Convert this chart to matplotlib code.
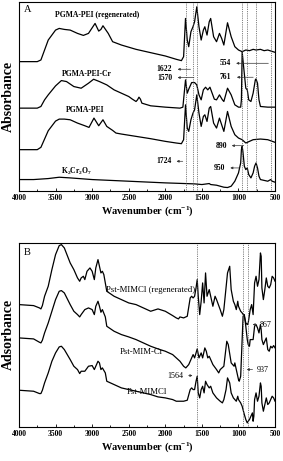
import numpy as np
import matplotlib
matplotlib.use("Agg")
import matplotlib.pyplot as plt
from matplotlib.ticker import MultipleLocator

plt.rcParams['font.family'] = ['Liberation Serif', 'DejaVu Serif']
plt.rcParams['mathtext.fontset'] = 'custom'
plt.rcParams['mathtext.rm'] = 'Liberation Serif'
plt.rcParams['mathtext.it'] = 'Liberation Serif:italic'
plt.rcParams['mathtext.bf'] = 'Liberation Serif:bold'

# ---------------- Panel A data (wavenumber, offset absorbance a.u.) ----------------
wn_a1 = [4000,3750,3700,3650,3600,3500,3450,3380,3300,3200,3120,3050,2960,2910,2880,2852,2780,2720,2600,2400,2200,2000,1850,1780,1750,1724,1700,1680,1650,1622,1600,1570,1540,1510,1480,1460,1430,1400,1380,1340,1300,1260,1230,1200,1150,1100,1050,1000,950,900,850,800,760,700,650,600,500]
ab_a1 = [389,389,394,424,454,484,489,486,484,474,468,474,504,481,486,497,474,449,439,426,416,406,396,392,404,519,454,434,479,494,509,554,494,454,484,494,469,509,519,464,449,474,459,439,506,464,434,424,419,424,422,426,424,426,422,424,417]

wn_a2 = [4000,3750,3700,3650,3600,3500,3420,3350,3250,3150,3050,2980,2900,2800,2700,2600,2500,2450,2400,2380,2360,2340,2320,2200,2000,1800,1760,1724,1700,1680,1640,1600,1570,1540,1510,1480,1450,1420,1390,1360,1330,1300,1260,1220,1200,1150,1100,1050,1000,970,960,950,930,900,880,860,830,800,770,761,740,720,700,600,500]
ab_a2 = [249,249,254,274,289,316,332,329,314,309,324,336,329,319,304,294,284,276,269,274,282,276,264,256,252,249,252,334,294,306,326,326,319,289,274,304,312,304,312,294,276,274,289,274,269,309,289,259,252,252,274,419,374,309,304,274,269,294,334,337,324,274,254,252,252]

wn_a3 = [4000,3750,3700,3650,3600,3500,3450,3380,3300,3200,3100,3043,2975,2910,2852,2800,2720,2674,2600,2400,2200,2000,1850,1780,1750,1724,1700,1680,1650,1622,1600,1570,1540,1510,1480,1460,1430,1400,1380,1340,1300,1260,1230,1200,1150,1100,1050,1000,950,900,850,800,700,600,500]
ab_a3 = [124,124,131,156,181,210,216,216,214,204,196,191,219,196,214,194,182,174,171,164,157,149,144,142,154,259,189,179,214,234,244,289,234,194,224,229,209,249,254,204,189,219,199,179,239,194,169,159,154,144,149,154,156,154,146]

wn_a4 = [4000,3800,3600,3450,3300,3000,2500,2000,1600,1500,1400,1380,1300,1200,1150,1100,1050,1000,970,960,950,940,920,900,880,860,830,800,780,760,740,720,700,600,560,540,500]
ab_a4 = [34,34,37,41,39,34,29,24,21,19,22,19,17,11,10,14,29,54,84,124,134,119,74,64,69,49,39,54,74,84,69,44,34,29,34,29,26]

lines_a = [1724, 1622, 1570, 950, 890, 761, 554]

# ---------------- Panel B data ----------------
wn_b1 = [4000,3800,3720,3700,3680,3650,3600,3550,3500,3450,3420,3380,3300,3250,3200,3170,3150,3120,3100,3070,3030,3000,2970,2950,2920,2900,2880,2860,2840,2820,2800,2700,2600,2500,2400,2300,2200,2100,2000,1900,1850,1820,1800,1750,1700,1660,1640,1620,1600,1580,1564,1550,1530,1510,1490,1470,1450,1430,1400,1380,1350,1320,1300,1250,1220,1200,1150,1120,1100,1070,1050,1030,1010,1000,970,950,920,900,880,867,840,820,800,780,760,740,720,700,690,680,660,640,620,600,580,560,540,520,500]
ab_b1 = [367,364,357,354,364,392,422,472,517,544,547,537,492,472,447,437,447,452,442,467,477,467,442,477,502,482,462,467,457,432,407,392,382,372,367,357,347,354,347,334,327,324,330,327,332,387,392,387,392,417,442,392,337,377,432,372,462,392,412,392,362,392,382,352,332,352,462,482,412,377,367,352,377,362,347,342,332,312,307,312,352,367,337,432,452,422,442,522,512,417,382,412,447,422,417,427,452,447,437]

wn_b2 = [4000,3800,3720,3700,3680,3650,3600,3550,3500,3450,3420,3380,3300,3250,3200,3170,3150,3100,3050,3000,2970,2950,2920,2900,2880,2860,2820,2800,2700,2600,2500,2400,2300,2200,2100,2000,1900,1800,1750,1720,1700,1680,1650,1620,1600,1564,1540,1510,1490,1460,1440,1420,1400,1350,1300,1270,1250,1200,1160,1140,1100,1060,1050,1030,1000,990,970,950,937,920,900,880,867,850,840,800,780,760,740,720,700,690,680,660,640,620,600,580,560,540,520,500]
ab_b2 = [267,264,254,252,260,282,312,347,382,407,409,402,367,347,337,330,337,352,357,352,337,362,377,362,344,352,330,302,287,277,270,262,252,242,234,227,217,197,182,177,182,187,202,217,207,234,207,222,207,237,227,207,212,187,172,162,172,182,257,247,192,182,192,172,142,137,152,262,332,337,302,262,247,242,262,262,302,307,297,282,307,292,262,247,257,267,232,227,242,237,244,237]

wn_b3 = [4000,3800,3720,3700,3680,3650,3600,3550,3500,3450,3420,3380,3300,3250,3200,3170,3150,3100,3050,3000,2970,2950,2920,2900,2880,2860,2820,2800,2700,2600,2500,2400,2300,2200,2100,2000,1900,1850,1800,1750,1700,1660,1640,1620,1600,1580,1564,1550,1530,1510,1490,1470,1450,1430,1400,1380,1350,1300,1250,1220,1200,1170,1150,1120,1100,1070,1050,1030,1010,1000,970,950,920,900,880,867,850,830,810,800,790,780,760,740,720,700,690,680,660,640,620,600,580,560,540,520,500]
ab_b3 = [110,107,100,100,110,132,162,197,222,240,242,232,202,182,172,160,167,167,182,184,172,182,197,192,172,177,162,137,127,117,112,107,102,97,90,87,82,77,77,77,80,112,117,112,112,137,152,102,87,112,122,102,137,127,117,122,102,87,77,72,82,112,147,132,102,87,82,77,92,82,72,62,37,22,12,17,22,32,42,17,32,82,102,77,92,132,122,72,47,67,87,67,72,82,92,87,77]

lines_b = [1564, 937, 867]

xticks = [4000, 3500, 3000, 2500, 2000, 1500, 1000, 500]

fig = plt.figure(figsize=(2.83, 4.61), dpi=100)
axA = fig.add_axes([0.067, 0.586, 0.905, 0.410])
axB = fig.add_axes([0.067, 0.074, 0.905, 0.399])

def style(ax, ylim):
    ax.set_xlim(4000, 500)
    ax.set_ylim(*ylim)
    ax.set_xticks(xticks)
    ax.set_xticklabels([str(t) for t in xticks], fontsize=5.5, fontweight='bold')
    ax.xaxis.set_minor_locator(MultipleLocator(250))
    ax.tick_params(axis='x', which='major', direction='in', length=2.5, width=0.6, pad=2)
    ax.tick_params(axis='x', which='minor', direction='in', length=1.5, width=0.6)
    ax.set_yticks([])
    for s in ax.spines.values():
        s.set_linewidth(0.8)
    ax.set_xlabel(r'Wavenumber (cm$^{\mathbf{-1}}$)', fontsize=7.5, fontweight='bold', labelpad=2)

# Panel A
for w, a in [(wn_a1, ab_a1), (wn_a2, ab_a2), (wn_a3, ab_a3), (wn_a4, ab_a4)]:
    axA.plot(w, a, color='black', lw=0.9)
for v in lines_a:
    axA.axvline(v, color='#555555', ls=(0, (1, 1.2)), lw=0.6)
style(axA, (0, 569))
axA.set_ylabel('Absorbance', fontsize=10, fontweight='bold', labelpad=3)
axA.text(0.02, 0.985, 'A', transform=axA.transAxes, fontsize=7.5, va='top', ha='left')
bk = dict(fontsize=5.5, fontweight='bold', ha='center', va='center')
axA.text(2938, 529, 'PGMA-PEI (regenerated)', **bk)
axA.text(3075, 352, 'PGMA-PEI-Cr', **bk)
axA.text(3098, 244, 'PGMA-PEI', **bk)
axA.text(3212, 58, r'K$_\mathbf{2}$Cr$_\mathbf{2}$O$_\mathbf{7}$', **bk)

arr = dict(arrowstyle='-|>', color='#333333', lw=0.5, mutation_scale=3.5)
def ann(ax, txt, xt, y, xl, xtip, ha, fw, fs):
    ax.annotate('', xy=(xtip, y), xytext=(xl, y), arrowprops=arr)
    ax.text(xt, y, txt, fontsize=fs, fontweight=fw, ha=ha, va='center')

ann(axA, '1622', 1905, 366, 1617, 1870, 'right', 'bold', 5.5)
ann(axA, '1570', 1905, 341, 1571, 1870, 'right', 'bold', 5.5)
ann(axA, '554', 1105, 384, 554, 1070, 'right', 'bold', 5.5)
ann(axA, '761', 1105, 342, 761, 1060, 'right', 'bold', 5.5)
ann(axA, '890', 1160, 136, 890, 1130, 'right', 'bold', 5.5)
ann(axA, '950', 1185, 69, 950, 1150, 'right', 'bold', 5.5)
ann(axA, '1724', 1915, 89, 1724, 1885, 'right', 'bold', 5.5)

# Panel B
for w, a in [(wn_b1, ab_b1), (wn_b2, ab_b2), (wn_b3, ab_b3)]:
    axB.plot(w, a, color='black', lw=0.9)
for v in lines_b:
    axB.axvline(v, color='#555555', ls=(0, (1, 1.2)), lw=0.6)
style(axB, (0, 552))
axB.set_ylabel('Adsorbance', fontsize=10, fontweight='bold', labelpad=3)
axB.text(0.02, 0.975, 'B', transform=axB.transAxes, fontsize=7.5, va='top', ha='left')
axB.text(2811, 412, 'Pst-MIMCl (regenerated)', fontsize=6.3, ha='left', va='center')
axB.text(2323, 224, 'Pst-MIM-Cr', fontsize=6.3, ha='center', va='center')
axB.text(2255, 104, 'Pst-MIMCl', fontsize=6.3, ha='center', va='center')
ann(axB, '1564', 1760, 154, 1720, 1590, 'right', 'normal', 5.8)
ann(axB, '867', 710, 307, 735, 845, 'left', 'normal', 5.8)
ann(axB, '937', 745, 172, 770, 925, 'left', 'normal', 5.8)

fig.savefig('out.png', dpi=100)
